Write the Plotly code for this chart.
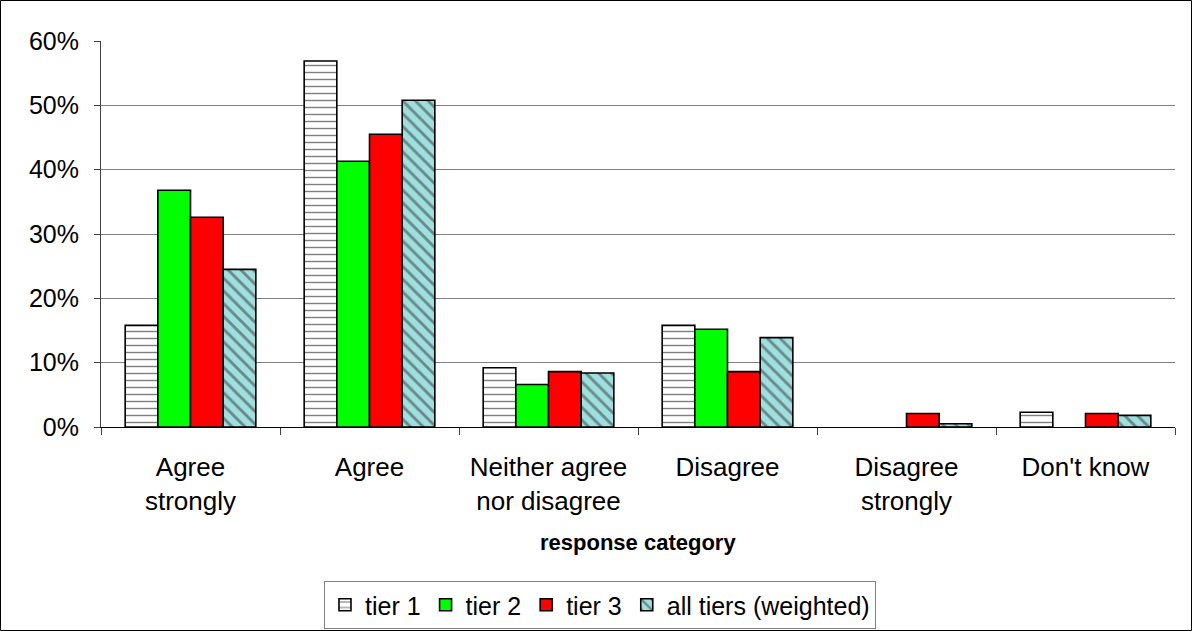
import plotly.graph_objects as go

# Survey responses by tier (share of respondents)
categories = ["Agree<br>strongly", "Agree", "Neither agree<br>nor disagree",
              "Disagree", "Disagree<br>strongly", "Don't know"]
tier1 = [0.158, 0.569, 0.092, 0.158, 0.0, 0.023]
tier2 = [0.368, 0.413, 0.066, 0.152, 0.0, 0.0]
tier3 = [0.326, 0.455, 0.086, 0.086, 0.021, 0.021]
all_tiers = [0.245, 0.508, 0.084, 0.139, 0.005, 0.018]

W, H = 1192, 631
ML, MR, MT, MB = 101, 17, 41, 204
PW, PH = W - ML - MR, H - MT - MB


def outline(values):
    # no outline on empty bars so zero values leave no mark on the axis
    return dict(color="black", width=[1.6 if v > 0 else 0 for v in values])


fig = go.Figure()
fig.add_bar(
    name="tier 1", x=categories, y=tier1,
    marker=dict(color="white", line=outline(tier1),
                pattern=dict(shape="-", size=7, solidity=0.2,
                             fgcolor="black", bgcolor="white", fillmode="overlay")),
)
fig.add_bar(name="tier 2", x=categories, y=tier2,
            marker=dict(color="#00FF00", line=outline(tier2)))
fig.add_bar(name="tier 3", x=categories, y=tier3,
            marker=dict(color="#FF0000", line=outline(tier3)))
fig.add_bar(
    name="all tiers (weighted)", x=categories, y=all_tiers,
    marker=dict(color="#9FDFDF", line=outline(all_tiers),
                pattern=dict(shape="\\", size=9, solidity=0.32,
                             fgcolor="#333333", bgcolor="#9FDFDF", fillmode="overlay")),
)

font_family = "Liberation Sans, Arial, sans-serif"

fig.update_layout(
    width=W, height=H,
    margin=dict(l=ML, r=MR, t=MT, b=MB, autoexpand=False),
    paper_bgcolor="white", plot_bgcolor="white",
    barmode="group", bargap=0.27, bargroupgap=0,
    font=dict(family=font_family, color="black", size=24),
    showlegend=True,
    legend=dict(
        orientation="h", x=0.4646, xanchor="center",
        y=(MT + PH - 581) / PH, yanchor="top",
        bordercolor="#808080", borderwidth=1, bgcolor="white",
        font=dict(size=25), itemwidth=30, traceorder="normal",
        tracegroupgap=0,
    ),
    xaxis=dict(
        type="category", tickson="boundaries", ticks="outside", ticklen=7,
        tickcolor="#404040", showline=True, linecolor="black", linewidth=1,
        tickfont=dict(size=26), ticklabelstandoff=17,
        showgrid=False, fixedrange=True,
    ),
    yaxis=dict(
        range=[0, 0.6], dtick=0.1, tickformat=".0%", ticks="outside", ticklen=6,
        tickcolor="#404040", showline=True, linecolor="#404040", linewidth=1,
        showgrid=True, gridcolor="#808080", gridwidth=1, zeroline=False,
        tickfont=dict(size=25), ticklabelstandoff=10, fixedrange=True,
    ),
    annotations=[dict(
        text="<b>response category</b>", xref="paper", yref="paper",
        x=0.5, y=(MT + PH - 542) / PH, xanchor="center", yanchor="middle",
        showarrow=False, font=dict(size=22),
    )],
    shapes=[dict(
        type="rect", xref="paper", yref="paper",
        x0=(0.5 - ML) / PW, x1=(W - 0.5 - ML) / PW,
        y0=(MT + PH - (H - 0.5)) / PH, y1=(MT + PH - 0.5) / PH,
        line=dict(color="black", width=1), fillcolor="rgba(0,0,0,0)",
    )],
)

fig.write_html("out.html")
